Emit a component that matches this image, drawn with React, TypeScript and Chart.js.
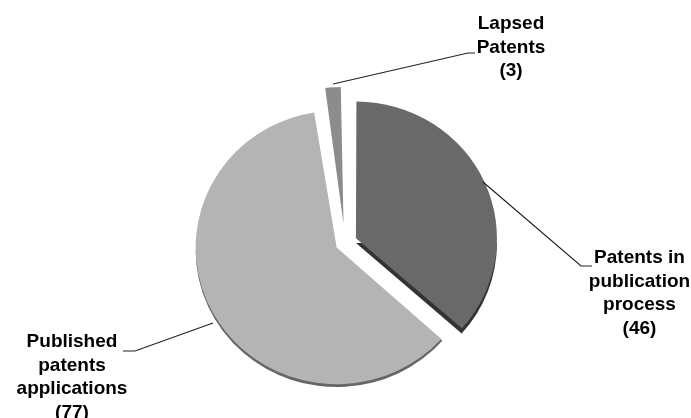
import React, { useEffect, useRef } from "react";
import { Chart, registerables } from "chart.js";

Chart.register(...registerables);

const categories = ["Patents in publication process", "Published patents applications", "Lapsed Patents"];
const values = [46, 77, 3];
const labelLines = [
  ["Patents in", "publication", "process", "(46)"],
  ["Published", "patents", "applications", "(77)"],
  ["Lapsed", "Patents", "(3)"],
];
const sliceColors = ["#696969", "#b4b4b4", "#8c8c8c"];
const rimColors = ["#333333", "#666666", "#555555"];
const rimDepths = [5, 3, 0];
const sliceOffsets = [48, 38, 80];
const labelAnchors = [
  { x: 639.5, y: 258 },
  { x: 72, y: 342 },
  { x: 511, y: 24 },
];
const leaders = [
  [[483, 182], [581, 266], [592, 266]],
  [[213, 323], [135, 351], [123, 351]],
  [[333, 84], [468, 53], [475, 53]],
];
const lineStep = 23.5;
const cx = 345;
const cy = 243;
const yScale = 0.97;
const pieRadius = 141;

const pieShape = {
  id: "pieShape",
  afterDatasetsUpdate(chart: any) {
    // Chart.js enlarges offset slices; take that out so all slices share one radius
    chart.getDatasetMeta(0).data.forEach((arc: any, i: number) => {
      const off = sliceOffsets[i] / 4;
      const fix = 1 - Math.sin(Math.min(Math.PI, arc.circumference || 0));
      arc.outerRadius = pieRadius - off * fix;
    });
  },
  beforeDatasetsDraw(chart: any) {
    const ctx = chart.ctx;
    const arcs = chart.getDatasetMeta(0).data;
    ctx.save();
    ctx.translate(cx, cy);
    ctx.scale(1, yScale);
    ctx.translate(-cx, -cy);
    arcs.forEach((arc: any, i: number) => {
      if (!rimDepths[i]) return;
      const off = sliceOffsets[i] / 4;
      const mid = (arc.startAngle + arc.endAngle) / 2;
      const ox = arc.x + Math.cos(mid) * off;
      const oy = arc.y + Math.sin(mid) * off;
      const from = Math.max(arc.startAngle, 0);
      const to = Math.min(arc.endAngle, Math.PI);
      ctx.save();
      ctx.translate(0, rimDepths[i]);
      ctx.fillStyle = rimColors[i];
      ctx.beginPath();
      ctx.moveTo(ox, oy);
      ctx.arc(ox, oy, pieRadius, from, to);
      ctx.closePath();
      ctx.fill();
      ctx.restore();
    });
  },
  afterDatasetsDraw(chart: any) {
    const ctx = chart.ctx;
    ctx.restore();
    ctx.save();
    ctx.strokeStyle = "#222222";
    ctx.lineWidth = 1.2;
    leaders.forEach((pts) => {
      ctx.beginPath();
      pts.forEach(([x, y], i) => (i === 0 ? ctx.moveTo(x, y) : ctx.lineTo(x, y)));
      ctx.stroke();
    });
    ctx.fillStyle = "#000000";
    ctx.font = "bold 19px 'Liberation Sans', Arial, sans-serif";
    ctx.textAlign = "center";
    ctx.textBaseline = "middle";
    labelLines.forEach((lines, i) => {
      lines.forEach((t, j) => {
        ctx.fillText(t, labelAnchors[i].x, labelAnchors[i].y + j * lineStep);
      });
    });
    ctx.restore();
  },
};

export default function App() {
  const ref = useRef<HTMLCanvasElement>(null);
  useEffect(() => {
    document.body.style.margin = "0";
    document.body.style.background = "#ffffff";
    const chart = new Chart(ref.current!, {
      type: "pie",
      data: {
        labels: categories,
        datasets: [
          {
            data: values,
            backgroundColor: sliceColors,
            borderWidth: 0,
            offset: sliceOffsets,
            clip: false,
          } as any,
        ],
      },
      options: {
        responsive: false,
        animation: false,
        radius: pieRadius,
        layout: { padding: { left: 0, right: 1, top: 68, bottom: 0 } },
        plugins: { legend: { display: false }, tooltip: { enabled: false }, title: { display: false } },
      } as any,
      plugins: [pieShape],
    });
    return () => chart.destroy();
  }, []);
  return <canvas ref={ref} width={691} height={418} style={{ display: "block", width: 691, height: 418 }} />;
}
